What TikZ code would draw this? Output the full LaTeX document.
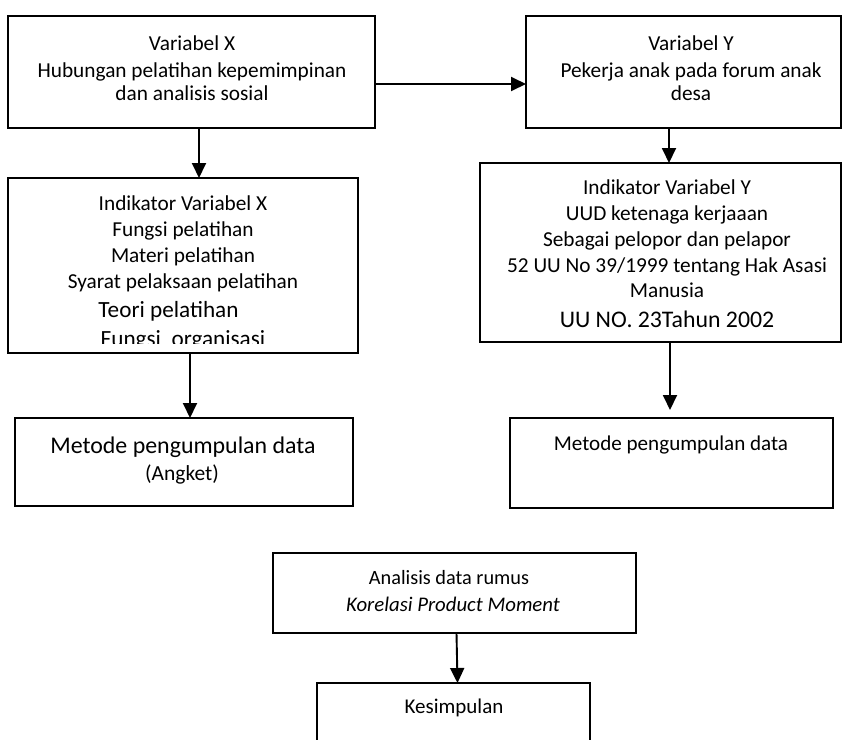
\documentclass[tikz,border=0pt]{standalone}
\usepackage{fontspec}
\setmainfont{Carlito}
\usetikzlibrary{arrows.meta}
\begin{document}
\begin{tikzpicture}[x=1pt,y=-1pt,
  box/.style={draw, line width=1.9pt, inner sep=0pt, outer sep=0pt, anchor=north west},
  txt/.style={anchor=base, inner sep=0pt, font=\fontsize{21.3}{25}\selectfont},
  txtm/.style={anchor=base, inner sep=0pt, font=\fontsize{20.3}{24}\selectfont},
  txtl/.style={anchor=base, inner sep=0pt, font=\fontsize{23.5}{28}\selectfont},
  arr/.style={line width=1.9pt, -{Triangle[width=14pt,length=15pt]}}]
\clip (0,0) rectangle (842,739);
\fill[white] (0,0) rectangle (842,739);
% boxes
\node[box, minimum width=367pt, minimum height=112pt] (A) at (8,16) {};
\node[box, minimum width=315pt, minimum height=112pt] (B) at (526,16) {};
\node[box, minimum width=350pt, minimum height=175pt] (C) at (8,178) {};
\node[box, minimum width=361pt, minimum height=179pt] (D) at (480,163) {};
\node[box, minimum width=338pt, minimum height=88pt] (E) at (15,418) {};
\node[box, minimum width=323pt, minimum height=90pt] (F) at (510,418) {};
\node[box, minimum width=363pt, minimum height=80pt] (G) at (273,553) {};
\node[box, minimum width=273pt, minimum height=80pt] (H) at (317,683) {};
% texts A
\node[txt] (a1) at (192,50) {Variabel X};
\node[txt] (a2) at (192,77) {Hubungan pelatihan kepemimpinan};
\node[txt] (a3) at (192,100) {dan analisis sosial};
% texts B
\node[txt] (b1) at (691,50) {Variabel Y};
\node[txt] (b2) at (691,77) {Pekerja anak pada forum anak};
\node[txt] (b3) at (691,100) {desa};
% texts C
\begin{scope}
\clip (8,178) rectangle (358,343.5);
\node[txt] (c1) at (183,210) {Indikator Variabel X};
\node[txt] (c2) at (183,236) {Fungsi pelatihan};
\node[txt] (c3) at (183,262) {Materi pelatihan};
\node[txt] (c4) at (183,288) {Syarat pelaksaan pelatihan};
\node[txtl, font=\fontsize{23.2}{28}\selectfont] (c5) at (168.5,317) {Teori pelatihan};
\node[txtl, font=\fontsize{23.2}{28}\selectfont] (c6) at (183,346) {Fungsi\ \ organisasi};
\end{scope}
% texts D
\node[txt] (d1) at (667,194) {Indikator Variabel Y};
\node[txt] (d2) at (667,220) {UUD ketenaga kerjaaan};
\node[txt] (d3) at (667,246) {Sebagai pelopor dan pelapor};
\node[txt] (d4) at (667,272) {52 UU No 39/1999 tentang Hak Asasi};
\node[txt] (d5) at (667,297) {Manusia};
\node[txtl, font=\fontsize{23.8}{28}\selectfont] (d6) at (667,327) {UU NO. 23Tahun 2002};
% texts E, F
\node[txtl, font=\fontsize{23.9}{28}\selectfont] (e1) at (183,453) {Metode pengumpulan data};
\node[txt, font=\fontsize{21.5}{25}\selectfont] (e2) at (182,480) {(Angket)};
\node[txt, font=\fontsize{21.1}{25}\selectfont] (f1) at (671,450) {Metode pengumpulan data};
% texts G, H
\node[txtm] (g1) at (449,584) {Analisis data rumus};
\node[txtm, font=\fontsize{20.8}{25}\selectfont\itshape] (g2) at (453,611) {Korelasi Product Moment};
\node[txtm, font=\fontsize{21}{25}\selectfont] (h1) at (454,713) {Kesimpulan};
% connectors
\draw[arr] ([yshift=-12pt]A.east) -- ([yshift=-12pt]B.west);
\draw[arr] ([xshift=7.5pt]A.south) -- ([xshift=7.5pt]A.south |- C.north);
\draw[arr] ([xshift=-14.5pt]B.south) -- ([xshift=-14.5pt]B.south |- D.north);
\draw[arr] ([xshift=7pt]C.south) -- ([xshift=7pt]C.south |- E.north);
\draw[arr] ([xshift=9.5pt]D.south) -- ([xshift=9.5pt,yshift=8pt]D.south |- F.north);
\draw[arr] ([xshift=2pt]G.south) -- ([xshift=3pt]G.south |- H.north);
\end{tikzpicture}
\end{document}
